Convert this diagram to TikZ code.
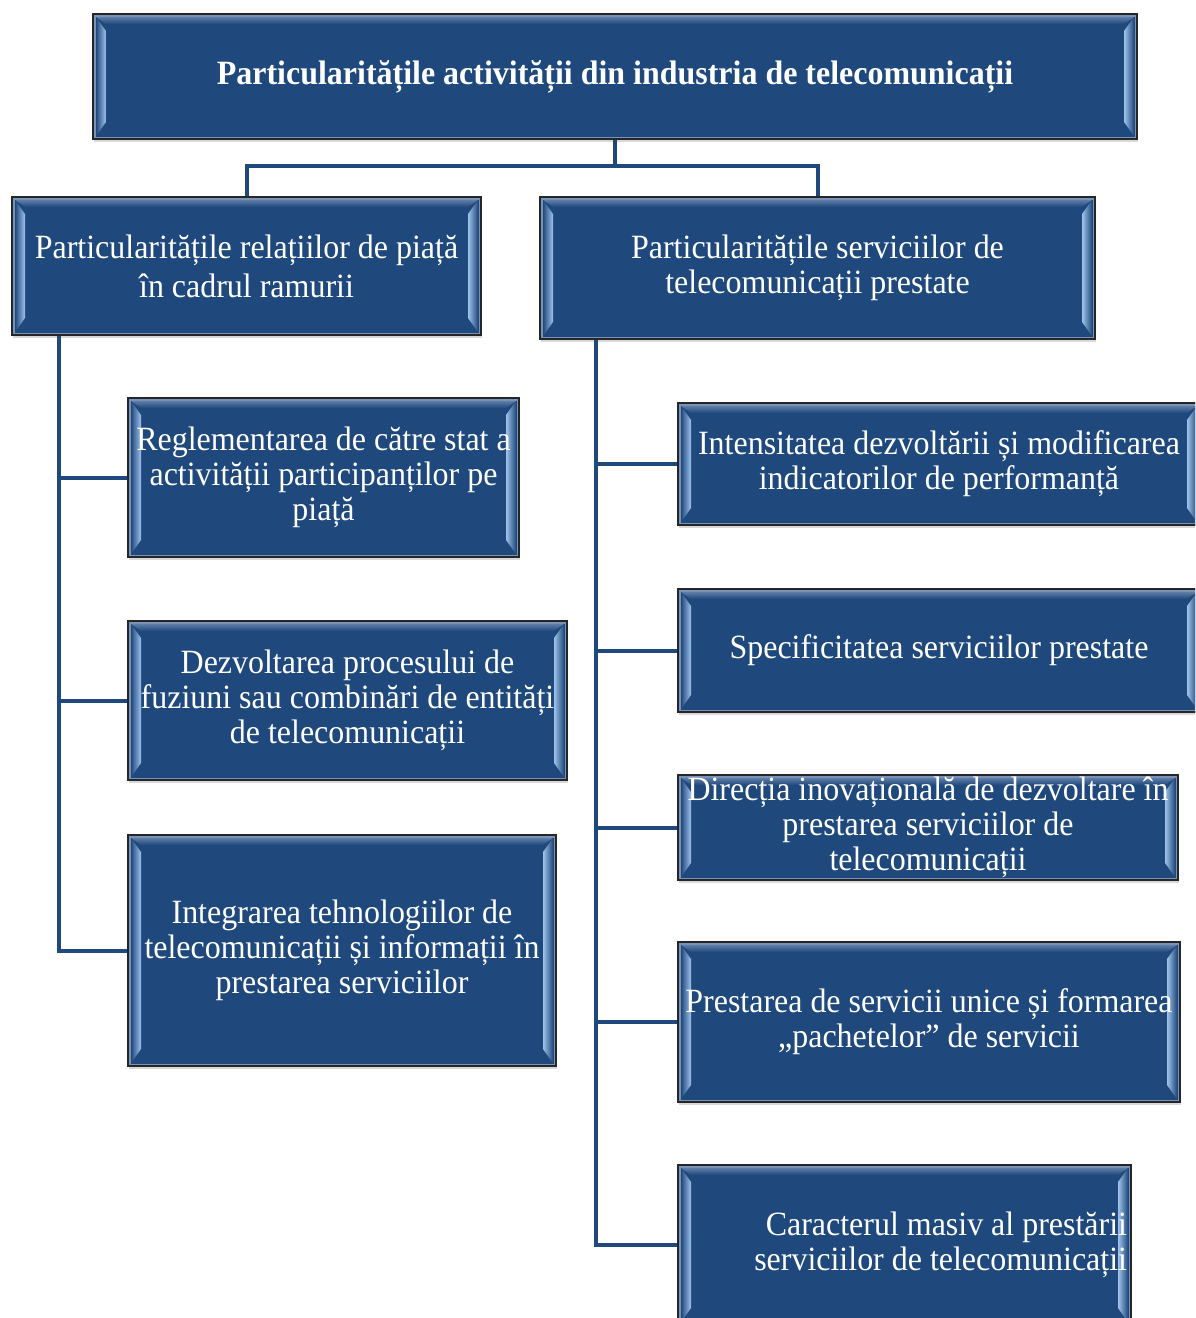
\documentclass[tikz,border=0pt]{standalone}
\usepackage{fontspec}
\setmainfont{Liberation Serif}[FakeStretch=0.94]
\usetikzlibrary{shadows}
\definecolor{boxblue}{RGB}{31,73,125}
\definecolor{bevellight}{RGB}{160,195,235}
\definecolor{bevelrim}{RGB}{120,146,184}

\begin{document}
\begin{tikzpicture}
  [x=1pt,y=-1pt,
   box/.style={rectangle, fill=boxblue, draw=black!85, line width=1.2pt, text=white,
     inner xsep=0pt, inner ysep=0pt, align=center,
     font=\fontsize{34}{35}\selectfont,
     drop shadow={shadow xshift=1pt,shadow yshift=-2.5pt,opacity=0.3},
     path picture={
       \draw[bevelrim, line width=5pt] (path picture bounding box.south west) rectangle (path picture bounding box.north east);
       \shade[top color=bevelrim!70!boxblue, bottom color=boxblue]
         ([xshift=3pt,yshift=-3pt]path picture bounding box.north west) -- ([xshift=-3pt,yshift=-3pt]path picture bounding box.north east)
         -- ([xshift=-13pt,yshift=-10pt]path picture bounding box.north east) -- ([xshift=13pt,yshift=-10pt]path picture bounding box.north west) -- cycle;
       \shade[left color=boxblue, right color=bevellight]
         ([xshift=3pt,yshift=-3pt]path picture bounding box.north west) -- ([xshift=13pt,yshift=-17pt]path picture bounding box.north west)
         -- ([xshift=13pt,yshift=17pt]path picture bounding box.south west) -- ([xshift=3pt,yshift=3pt]path picture bounding box.south west) -- cycle;
       \shade[left color=bevellight, right color=boxblue]
         ([xshift=-3pt,yshift=-3pt]path picture bounding box.north east) -- ([xshift=-13pt,yshift=-17pt]path picture bounding box.north east)
         -- ([xshift=-13pt,yshift=17pt]path picture bounding box.south east) -- ([xshift=-3pt,yshift=3pt]path picture bounding box.south east) -- cycle;
     }},
   link/.style={draw=boxblue, line width=4pt}]
  \path[use as bounding box, clip] (0,0) rectangle (1195,1318);

  \node[box, minimum width=1044pt, minimum height=125pt, font=\bfseries\fontsize{34}{38}\selectfont] (titlu) at (615,76.5)
    {Particularitățile activității din industria de telecomunicații};

  % ramura stanga
  \node[box, minimum width=469pt, minimum height=138pt, font=\fontsize{34}{39}\selectfont] (piata) at (246.5,266)
    {Particularitățile relațiilor de piață\\ în cadrul ramurii};
  \node[box, minimum width=391pt, minimum height=159pt] (reglementare) at (323.5,477.5)
    {Reglementarea de către stat a\\ activității participanților pe\\ piață};
  \node[box, minimum width=439pt, minimum height=159pt] (fuziuni) at (347.5,700.5)
    {Dezvoltarea procesului de\\ fuziuni sau combinări de entități\\ de telecomunicații};
  \node[box, minimum width=428pt, minimum height=231pt] (integrare) at (342,950.5)
    {Integrarea tehnologiilor de\\ telecomunicații și informații în\\ prestarea serviciilor};

  % ramura dreapta
  \node[box, minimum width=555pt, minimum height=142pt] (servicii) at (817.5,268)
    {Particularitățile serviciilor de\\ telecomunicații prestate};
  \node[box, minimum width=522pt, minimum height=122pt] (intensitate) at (939,464)
    {Intensitatea dezvoltării și modificarea\\ indicatorilor de performanță};
  \node[box, minimum width=522pt, minimum height=123pt] (specificitate) at (939,650.5)
    {Specificitatea serviciilor prestate};
  \node[box, minimum width=500pt, minimum height=105pt] (inovatie) at (928,827.5)
    {Direcția inovațională de dezvoltare în\\ prestarea serviciilor de\\ telecomunicații};
  \node[box, minimum width=502pt, minimum height=160pt] (pachete) at (929,1022)
    {Prestarea de servicii unice și formarea\\ „pachetelor” de servicii};
  \node[box, minimum width=453pt, minimum height=160pt, text width=445pt, align=flush right] (caracter) at (904.5,1245)
    {Caracterul masiv al prestării\\ serviciilor de telecomunicații};

  % legaturi
  \coordinate (split) at ([yshift=-26pt]titlu.south);
  \draw[link] (titlu) -- (split);
  \draw[link] (split) -| (piata);
  \draw[link] (split) -| (servicii);

  \coordinate (ltrunk) at ([xshift=48pt]piata.south west);
  \coordinate (rtrunk) at ([xshift=57pt]servicii.south west);
  \foreach \child in {reglementare,fuziuni,integrare}
    \draw[link] (ltrunk) |- (\child);
  \foreach \child in {intensitate,specificitate,inovatie,pachete,caracter}
    \draw[link] (rtrunk) |- (\child);
\end{tikzpicture}
\end{document}
